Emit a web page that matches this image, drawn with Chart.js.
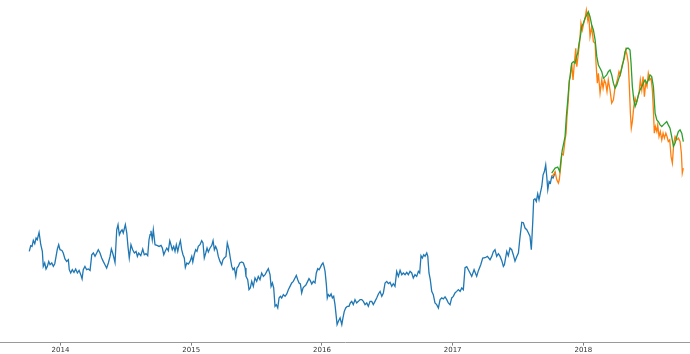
<!DOCTYPE html>
<html>
<head>
<meta charset="utf-8">
<script src="https://cdn.jsdelivr.net/npm/chart.js@4/dist/chart.umd.min.js"></script>
<style>
  html, body { margin: 0; padding: 0; background: #fff; }
  #wrap { width: 690px; height: 354px; }
</style>
</head>
<body>
<div id="wrap"><canvas id="priceChart" width="690" height="354"></canvas></div>
<script>
// dates as decimal years
const trainDates = [2013.761,2013.772,2013.782,2013.792,2013.803,2013.813,2013.822,2013.836,2013.849,2013.861,2013.868,2013.879,2013.889,2013.899,2013.910,2013.920,2013.933,2013.945,2013.956,2013.966,2013.976,2013.986,2013.996,2014.011,2014.021,2014.034,2014.047,2014.060,2014.067,2014.078,2014.090,2014.103,2014.116,2014.129,2014.142,2014.155,2014.165,2014.174,2014.187,2014.200,2014.213,2014.226,2014.239,2014.251,2014.264,2014.277,2014.289,2014.302,2014.315,2014.327,2014.340,2014.353,2014.366,2014.379,2014.389,2014.399,2014.409,2014.417,2014.430,2014.440,2014.450,2014.461,2014.471,2014.480,2014.496,2014.507,2014.516,2014.526,2014.539,2014.552,2014.565,2014.578,2014.588,2014.598,2014.614,2014.629,2014.641,2014.654,2014.667,2014.677,2014.685,2014.692,2014.702,2014.710,2014.723,2014.738,2014.754,2014.769,2014.779,2014.790,2014.800,2014.813,2014.825,2014.836,2014.845,2014.855,2014.866,2014.876,2014.886,2014.897,2014.907,2014.917,2014.927,2014.937,2014.947,2014.955,2014.966,2014.978,2014.991,2015.004,2015.012,2015.024,2015.034,2015.044,2015.054,2015.067,2015.080,2015.090,2015.100,2015.111,2015.121,2015.131,2015.144,2015.157,2015.167,2015.177,2015.187,2015.197,2015.207,2015.220,2015.233,2015.243,2015.253,2015.266,2015.276,2015.289,2015.299,2015.310,2015.320,2015.330,2015.341,2015.350,2015.360,2015.371,2015.386,2015.399,2015.412,2015.419,2015.432,2015.442,2015.452,2015.463,2015.475,2015.488,2015.501,2015.513,2015.526,2015.539,2015.552,2015.565,2015.578,2015.590,2015.603,2015.611,2015.621,2015.631,2015.641,2015.651,2015.662,2015.672,2015.682,2015.692,2015.705,2015.718,2015.731,2015.743,2015.756,2015.769,2015.781,2015.794,2015.804,2015.815,2015.825,2015.835,2015.845,2015.855,2015.865,2015.876,2015.891,2015.901,2015.911,2015.922,2015.934,2015.947,2015.957,2015.968,2015.978,2015.988,2015.998,2016.008,2016.016,2016.024,2016.034,2016.041,2016.049,2016.060,2016.070,2016.080,2016.090,2016.100,2016.108,2016.116,2016.126,2016.139,2016.152,2016.161,2016.171,2016.182,2016.194,2016.207,2016.217,2016.228,2016.240,2016.253,2016.266,2016.279,2016.292,2016.305,2016.317,2016.330,2016.343,2016.355,2016.368,2016.381,2016.393,2016.406,2016.419,2016.432,2016.445,2016.458,2016.470,2016.483,2016.496,2016.508,2016.521,2016.534,2016.546,2016.559,2016.572,2016.585,2016.598,2016.611,2016.623,2016.636,2016.649,2016.661,2016.674,2016.687,2016.699,2016.712,2016.725,2016.738,2016.748,2016.758,2016.768,2016.779,2016.789,2016.802,2016.810,2016.819,2016.829,2016.840,2016.852,2016.865,2016.878,2016.891,2016.904,2016.917,2016.929,2016.942,2016.955,2016.967,2016.980,2016.993,2017.005,2017.018,2017.031,2017.044,2017.057,2017.070,2017.082,2017.095,2017.108,2017.120,2017.133,2017.146,2017.164,2017.184,2017.197,2017.215,2017.230,2017.248,2017.266,2017.286,2017.299,2017.311,2017.324,2017.337,2017.350,2017.363,2017.376,2017.388,2017.396,2017.403,2017.414,2017.426,2017.439,2017.452,2017.464,2017.477,2017.490,2017.503,2017.516,2017.529,2017.541,2017.554,2017.567,2017.579,2017.592,2017.602,2017.613,2017.620,2017.630,2017.640,2017.651,2017.661,2017.671,2017.682,2017.692,2017.702,2017.712,2017.720,2017.728,2017.738,2017.748,2017.758,2017.768,2017.778,2017.787];
const trainClose = [9.13,9.70,9.63,10.23,9.90,10.47,10.30,11.03,9.80,9.13,7.63,7.97,7.37,7.63,8.13,7.80,7.97,7.63,7.90,8.63,9.37,9.80,9.30,9.23,8.97,8.37,8.13,8.30,7.30,6.97,7.30,7.03,7.37,6.97,7.23,6.80,6.37,7.30,7.63,7.30,7.37,7.23,8.80,8.97,8.63,8.97,9.30,8.97,8.47,8.13,7.80,7.47,7.97,8.63,9.37,8.97,8.47,8.03,11.30,11.80,10.80,11.13,11.30,10.97,11.80,10.97,9.63,8.47,9.80,9.30,8.97,9.13,8.63,8.97,8.70,9.37,8.80,8.90,8.70,10.30,10.80,11.20,10.30,11.30,9.80,9.73,9.63,9.73,9.47,8.80,9.13,9.47,9.20,10.20,9.80,9.30,9.63,9.13,9.80,9.13,9.73,10.20,9.30,8.80,8.47,7.53,7.97,7.87,8.13,8.63,8.07,8.87,9.30,9.13,9.63,9.80,10.20,9.97,8.47,8.97,9.47,9.07,9.47,9.73,10.20,9.30,9.63,9.30,8.63,8.13,7.80,8.30,8.47,8.63,9.97,9.30,8.47,7.63,7.30,7.47,6.63,7.47,7.63,7.97,8.07,7.97,7.47,6.63,6.30,5.30,5.47,6.13,5.63,6.47,6.13,6.63,6.30,6.97,6.63,6.80,7.13,7.40,6.80,5.63,5.97,5.47,3.63,3.80,3.47,4.47,4.63,4.47,4.80,4.63,4.87,5.30,5.63,5.97,6.13,6.47,6.73,6.30,5.97,5.87,4.97,5.47,5.63,5.73,6.13,6.40,6.20,5.87,6.13,5.97,6.97,7.40,7.30,7.53,7.80,7.97,7.63,7.13,5.80,4.47,4.80,4.63,4.87,4.47,4.63,3.80,2.80,1.80,2.13,2.47,1.80,2.47,3.13,3.47,3.63,3.63,3.97,4.13,3.80,4.30,3.97,4.13,4.30,4.30,4.13,3.80,3.97,3.63,4.13,4.13,3.80,4.13,4.47,4.87,5.13,4.63,4.97,5.97,6.13,5.90,6.03,5.63,5.90,5.63,7.13,6.63,7.23,6.80,6.97,6.80,7.03,6.80,7.13,6.97,6.47,6.80,6.63,7.13,6.97,8.70,8.47,8.80,8.63,8.97,8.63,6.97,6.30,5.13,4.80,3.97,3.80,3.47,4.30,4.47,4.37,4.57,4.30,3.97,3.80,4.47,4.63,4.97,5.13,5.30,5.13,5.47,5.30,7.50,7.60,7.30,6.97,6.63,7.30,6.63,7.20,7.80,8.47,8.50,8.63,8.30,8.63,9.10,9.30,8.63,8.90,8.63,8.20,7.63,7.80,8.30,9.13,8.70,9.47,9.30,8.80,8.15,8.60,8.97,10.63,12.05,12.00,11.47,11.30,11.00,10.63,9.30,12.10,14.30,14.40,14.13,14.90,14.30,14.97,15.63,16.80,17.13,17.80,16.63,15.30,16.13,15.97,16.63,16.47,16.80,17.10];

const validDates = [2017.758,2017.771,2017.784,2017.797,2017.809,2017.816,2017.827,2017.835,2017.847,2017.860,2017.868,2017.875,2017.885,2017.893,2017.901,2017.911,2017.921,2017.931,2017.942,2017.950,2017.962,2017.972,2017.982,2017.992,2018.003,2018.013,2018.023,2018.034,2018.041,2018.051,2018.064,2018.077,2018.090,2018.097,2018.107,2018.115,2018.128,2018.141,2018.151,2018.161,2018.171,2018.181,2018.191,2018.204,2018.217,2018.230,2018.243,2018.253,2018.263,2018.273,2018.283,2018.294,2018.304,2018.314,2018.324,2018.334,2018.344,2018.352,2018.360,2018.367,2018.375,2018.386,2018.396,2018.406,2018.416,2018.426,2018.436,2018.447,2018.457,2018.467,2018.477,2018.487,2018.497,2018.508,2018.518,2018.528,2018.536,2018.543,2018.551,2018.562,2018.569,2018.579,2018.589,2018.600,2018.610,2018.620,2018.631,2018.640,2018.650,2018.661,2018.671,2018.681,2018.692,2018.702,2018.715,2018.727,2018.740,2018.750,2018.757,2018.765];
const validClose = [16.63,16.80,17.10,16.30,15.97,16.30,17.63,18.90,18.80,20.30,20.97,22.63,24.30,26.30,26.63,27.97,26.30,27.97,29.47,27.63,28.97,30.13,31.97,31.30,31.97,32.47,33.30,32.30,32.97,30.63,31.63,30.13,29.97,27.97,25.97,26.97,24.97,26.30,25.47,26.30,25.97,25.13,26.30,25.30,23.97,24.30,25.63,25.97,26.47,27.13,26.80,27.63,28.13,28.47,29.30,28.80,27.97,25.63,22.97,21.47,22.13,23.63,24.47,23.97,24.47,24.97,26.30,25.30,26.63,24.63,25.97,25.63,26.97,26.30,26.47,25.30,23.30,20.97,21.63,21.13,21.80,20.63,21.13,20.30,20.97,20.47,20.97,20.63,20.13,20.30,18.63,17.97,19.97,20.63,20.30,20.47,20.13,18.97,16.97,17.47];

const predDates = [2017.758,2017.784,2017.804,2017.819,2017.829,2017.839,2017.850,2017.860,2017.870,2017.881,2017.891,2017.901,2017.911,2017.924,2017.937,2017.947,2017.957,2017.967,2017.977,2017.988,2018.000,2018.013,2018.026,2018.038,2018.051,2018.064,2018.077,2018.090,2018.103,2018.115,2018.128,2018.141,2018.153,2018.166,2018.179,2018.191,2018.204,2018.217,2018.230,2018.243,2018.256,2018.268,2018.281,2018.294,2018.306,2018.319,2018.332,2018.344,2018.357,2018.365,2018.375,2018.386,2018.396,2018.409,2018.421,2018.434,2018.447,2018.459,2018.472,2018.485,2018.497,2018.510,2018.523,2018.536,2018.549,2018.562,2018.574,2018.587,2018.600,2018.612,2018.625,2018.638,2018.650,2018.663,2018.676,2018.689,2018.702,2018.715,2018.727,2018.740,2018.753,2018.765];
const predClose = [16.97,17.47,17.57,17.13,18.30,19.30,19.97,20.63,22.63,24.30,25.97,26.97,27.97,28.13,27.97,28.63,28.97,29.97,30.63,31.63,31.97,32.47,32.80,33.13,32.63,31.80,31.30,30.30,28.63,27.80,27.47,27.13,26.47,26.63,26.80,27.13,27.30,26.80,25.97,25.47,25.80,26.30,26.80,27.47,28.13,29.13,29.47,29.47,29.30,27.97,25.63,24.30,23.63,24.13,24.80,25.30,25.63,25.97,26.30,25.97,26.30,26.80,26.63,25.63,22.97,22.30,22.13,21.80,21.63,21.80,21.97,22.13,21.80,21.47,20.63,19.63,19.97,20.63,21.13,21.30,20.97,20.13];

const tickYears = [2014, 2015, 2016, 2017, 2018];

function toPoints(xs, ys) {
    return xs.map(function (x, i) { return { x: x, y: ys[i] }; });
}

const ctx = document.getElementById('priceChart').getContext('2d');
new Chart(ctx, {
    type: 'line',
    data: {
        datasets: [{
            label: 'Predictions',
            data: toPoints(predDates, predClose),
            borderColor: '#2ca02c',
            order: 0
        }, {
            label: 'Close (valid)',
            data: toPoints(validDates, validClose),
            borderColor: '#ff7f0e',
            order: 1
        }, {
            label: 'Close (train)',
            data: toPoints(trainDates, trainClose),
            borderColor: '#1f77b4',
            order: 2
        }]
    },
    options: {
        responsive: false,
        animation: false,
        parsing: false,
        layout: { padding: 0 },
        elements: {
            line: { borderWidth: 1.3, tension: 0, fill: false },
            point: { radius: 0, hoverRadius: 0 }
        },
        plugins: {
            legend: { display: false },
            tooltip: { enabled: false }
        },
        scales: {
            x: {
                type: 'linear',
                min: 2013.537,
                max: 2018.816,
                afterBuildTicks: function (scale) {
                    scale.ticks = tickYears.map(function (v) { return { value: v }; });
                },
                grid: { display: true, drawOnChartArea: false, drawTicks: true, tickLength: 3, color: '#7f7f7f' },
                border: { display: true, color: '#9a9a9a', width: 1 },
                ticks: {
                    padding: 0,
                    maxRotation: 0,
                    color: '#333',
                    font: { family: 'DejaVu Sans', size: 7 },
                    callback: function (v) { return String(v); }
                }
            },
            y: {
                display: false,
                min: 0,
                max: 34.3
            }
        }
    }
});
</script>
</body>
</html>
